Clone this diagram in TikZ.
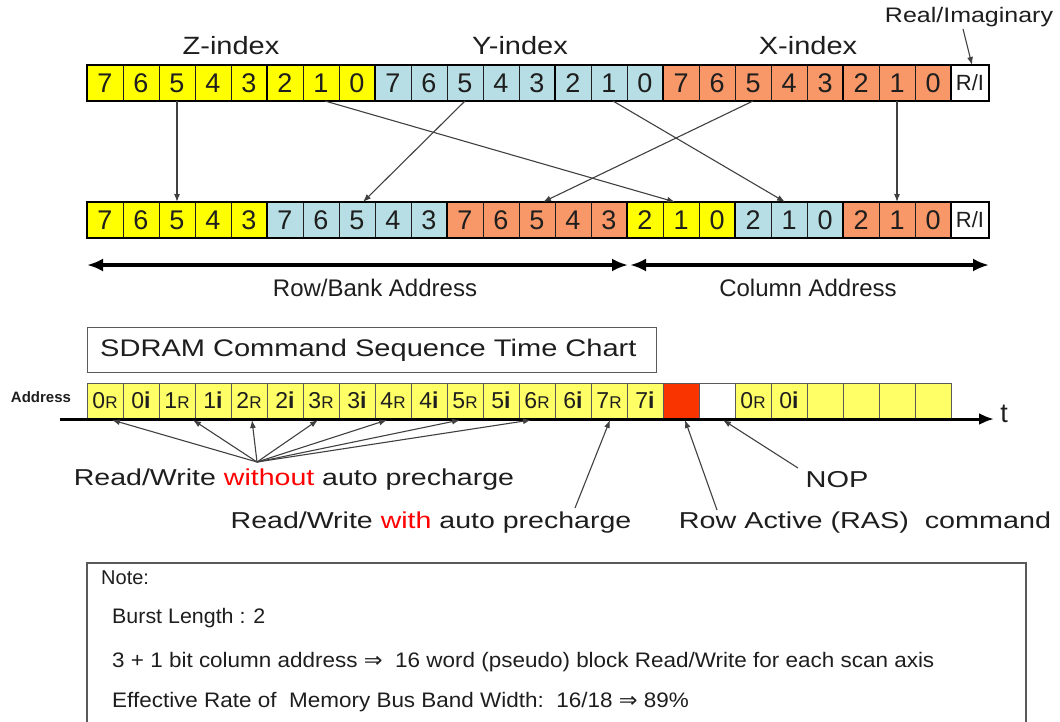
\documentclass[tikz,border=0pt]{standalone}
\usepackage{fontspec}
\setmainfont{Liberation Sans}
\newfontfamily\symfont{DejaVu Sans}
\usepackage{graphicx}
\usetikzlibrary{arrows.meta,calc}

\definecolor{zyel}{RGB}{255,255,0}
\definecolor{yblu}{RGB}{183,222,228}
\definecolor{xorg}{RGB}{248,152,104}
\definecolor{tyel}{RGB}{255,255,102}
\definecolor{rasred}{RGB}{250,52,0}
\definecolor{txtred}{RGB}{255,0,0}
\definecolor{ink}{RGB}{30,30,30}
\definecolor{frame}{RGB}{90,90,90}

\newcommand\fs[1]{\fontsize{#1}{#1}\selectfont}
\newcommand\hs[2]{\scalebox{#1}[1]{#2}}
\newcommand\cR[1]{{\fs{23}#1}{\fs{17}R}}
\newcommand\cI[1]{{\fs{23}#1}{\fs{23}\bfseries i}}

\begin{document}
\begin{tikzpicture}[x=1pt,y=-1pt,
  bit/.style={draw=ink, line width=0.8pt, minimum width=36pt, minimum height=36pt,
    inner sep=0pt, outer sep=0pt, font=\fs{27}, text=ink},
  ribit/.style={bit, minimum width=38pt, fill=white, font=\fs{22}},
  grp/.style={draw=black, line width=2.8pt},
  tcell/.style={draw=frame, line width=0.9pt, minimum width=36pt, minimum height=35pt,
    inner sep=0pt, outer sep=0pt, fill=tyel, text=ink},
  label/.style={inner sep=0pt, text=ink},
  note/.style={label, anchor=west, font=\fs{21}},
  ptr/.style={draw=ink!85, line width=1.1pt, -{Latex[length=8pt,width=6pt]}},
  span/.style={draw=black, line width=3.4pt, {Latex[length=16pt,width=13pt]}-{Latex[length=16pt,width=13pt]}},
  axis/.style={draw=black, line width=3pt, -{Latex[length=15pt,width=12pt]}}
]
\useasboundingbox (0,0) rectangle (1060,721);

% ---------- scan index word ----------
\node[label, font=\fs{25}] (zlab) at (231,46) {\hs{1.16}{Z-index}};
\node[label, font=\fs{25}] (ylab) at (520,46) {\hs{1.16}{Y-index}};
\node[label, font=\fs{25}] (xlab) at (808,46) {\hs{1.16}{X-index}};
\node[label, font=\fs{21}] (rilab) at (969,17) {\hs{1.19}{Real/Imaginary}};

\foreach \g/\col [count=\gi from 0] in {z/zyel,y/yblu,x/xorg}{
  \foreach \b [count=\k from 0] in {7,6,5,4,3,2,1,0}{
    \node[bit, fill=\col] (t\g\b) at ({105+36*(8*\gi+\k)},83) {\b};
  }
}
\node[ribit] (tri) at (970,83) {R/I};
\foreach \g in {z,y,x}{
  \draw[grp] (t\g7.north west) rectangle (t\g3.south east);
  \draw[grp] (t\g2.north west) rectangle (t\g0.south east);
}
\draw[grp] (tri.north west) rectangle (tri.south east);

% ---------- memory address word ----------
\foreach \g/\col/\i in {z/zyel/0,y/yblu/5,x/xorg/10}{
  \foreach \b [count=\k from 0] in {7,6,5,4,3}{
    \node[bit, fill=\col] (b\g\b) at ({105+36*(\i+\k)},220) {\b};
  }
}
\foreach \g/\col/\i in {z/zyel/15,y/yblu/18,x/xorg/21}{
  \foreach \b [count=\k from 0] in {2,1,0}{
    \node[bit, fill=\col] (b\g\b) at ({105+36*(\i+\k)},220) {\b};
  }
}
\node[ribit] (bri) at (970,220) {R/I};
\foreach \g in {z,y,x}{
  \draw[grp] (b\g7.north west) rectangle (b\g3.south east);
  \draw[grp] (b\g2.north west) rectangle (b\g0.south east);
}
\draw[grp] (bri.north west) rectangle (bri.south east);

% bit mapping
\draw[ptr] (tz5.south) -- (bz5.north);
\draw[ptr] ($(tz1.south)+(4,0)$) -- ($(bz1.north)+(-6,0)$);
\draw[ptr] (ty5.south) -- ($(by5.north)+(6,0)$);
\draw[ptr] ($(ty1.south)+(4,0)$) -- ($(by1.north)+(-4,0)$);
\draw[ptr] (tx5.south) -- ($(bx5.north)+(6,0)$);
\draw[ptr] (tx1.south) -- (bx1.north);
\draw[ptr] ($(rilab.south)+(-6,2)$) -- ($(tri.north)+(2,0)$);

% address fields
\coordinate (rowL) at (87,265);
\coordinate (rowR) at (628,265);
\coordinate (colL) at (630,265);
\coordinate (colR) at (989,265);
\draw[span] (rowL) -- (rowR);
\draw[span] (colL) -- (colR);
\node[label, font=\fs{24}] (rowlab) at (375,288) {Row/Bank Address};
\node[label, font=\fs{24}] (collab) at (808,288) {Column Address};

% ---------- command time chart ----------
\node[draw=frame, line width=1pt, anchor=north west, minimum width=569pt, minimum height=45pt,
  inner sep=0pt] (title) at (87,327) {};
\node[label, anchor=west, font=\fs{24}] (titletext) at ($(title.west)+(13,0)$)
  {\hs{1.21}{SDRAM Command Sequence Time Chart}};

\node[label, font=\fs{15}\bfseries] (addr) at (41,397) {Address};

\foreach \t [count=\k from 0] in {\cR0,\cI0,\cR1,\cI1,\cR2,\cI2,\cR3,\cI3,
                                   \cR4,\cI4,\cR5,\cI5,\cR6,\cI6,\cR7,\cI7}{
  \node[tcell] (c\k) at ({105+36*\k},400.5) {\t};
}
\node[tcell, fill=rasred] (c16) at ({105+36*16},400.5) {};
\node[tcell, fill=white] (c17) at ({105+36*17},400.5) {};
\node[tcell] (c18) at ({105+36*18},400.5) {\cR0};
\node[tcell] (c19) at ({105+36*19},400.5) {\cI0};
\foreach \k in {20,21,22,23}{
  \node[tcell] (c\k) at ({105+36*\k},400.5) {};
}

\coordinate (axs) at (60,419);
\coordinate (axe) at (994,419);
\draw[axis] (axs) -- (axe);
\node[label, font=\fs{27}] (tlab) at (1004,414) {t};

% command labels
\node[label, font=\fs{23}] (rwo) at (294,480)
  {\hs{1.24}{Read/Write \textcolor{txtred}{without} auto precharge}};
\node[label, font=\fs{23}] (nop) at (837,480) {\hs{1.26}{NOP}};
\node[label, font=\fs{23}] (rww) at (431,523)
  {\hs{1.24}{Read/Write \textcolor{txtred}{with} auto precharge}};
\node[label, font=\fs{23}] (ras) at (865,523) {\hs{1.25}{Row Active (RAS)\ \ command}};

\coordinate (hub) at (257,462);
\foreach \k/\dx in {0/7,2/16,4/3,6/-3,8/-6,10/-5,12/-6}{
  \draw[ptr] (hub) -- ($(c\k.south)+(\dx,2)$);
}
\coordinate (rwwtop) at (575,508);
\coordinate (rastop) at (717,510);
\coordinate (noptop) at (798,468);
\draw[ptr] (rwwtop) -- ($(c14.south)+(1,2)$);
\draw[ptr] (rastop) -- ($(c16.south)+(4,2)$);
\draw[ptr] (noptop) -- ($(c17.south)+(6,2)$);

% ---------- note box ----------
\draw[draw=frame, line width=1.2pt] (87,730) -- (87,563) -- (1026,563) -- (1026,730);
\node[note, font=\fs{20}] (n0) at (101,578) {Note:};
\node[note] (n1) at (112,618) {\hs{1.02}{Burst Length : 2}};
\node[note] (n2) at (112,662)
  {\hs{1.07}{3 + 1 bit column address {\symfont ⇒}\ \ 16 word (pseudo) block Read/Write for each scan axis}};
\node[note] (n3) at (112,702)
  {\hs{1.07}{Effective Rate of\ \ Memory Bus Band Width:\ \ 16/18 {\symfont ⇒} 89\%}};
\end{tikzpicture}
\end{document}
